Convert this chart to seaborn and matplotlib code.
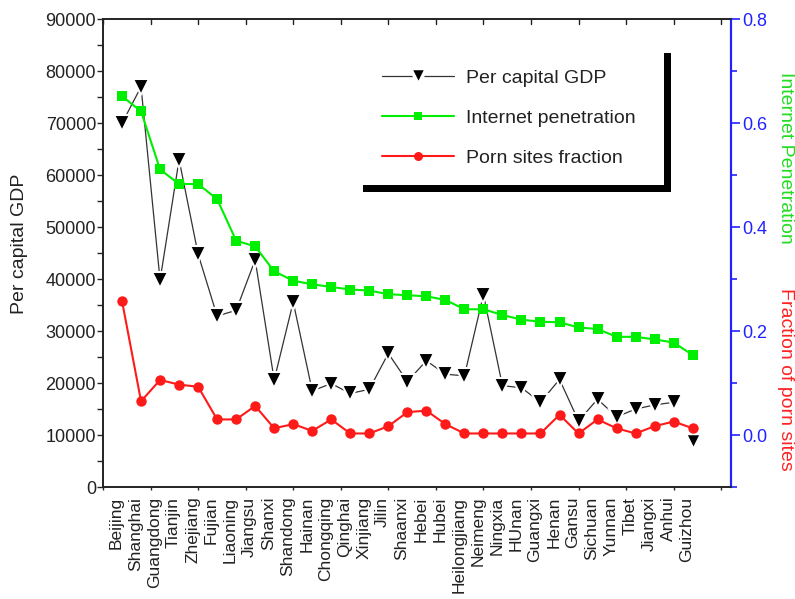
import matplotlib
matplotlib.use("Agg")
import matplotlib.pyplot as plt
import matplotlib.transforms as mtransforms
from matplotlib.lines import Line2D
from matplotlib.patches import Rectangle
from matplotlib.ticker import MultipleLocator, FormatStrFormatter
import seaborn as sns

provinces = ["Beijing", "Shanghai", "Guangdong", "Tianjin", "Zhejiang", "Fujian",
             "Liaoning", "Jiangsu", "Shanxi", "Shandong", "Hainan", "Chongqing",
             "Qinghai", "Xinjiang", "Jilin", "Shaanxi", "Hebei", "Hubei",
             "Heilongjiang", "Neimeng", "Ningxia", "HUnan", "Guangxi", "Henan",
             "Gansu", "Sichuan", "Yunnan", "Tibet", "Jiangxi", "Anhui", "Guizhou"]
positions = list(range(1, len(provinces) + 1))

gdp = [70000, 77000, 39800, 63000, 44800, 32900, 34000, 43700, 20600, 35600,
       18500, 19900, 18000, 18800, 25700, 20300, 24300, 21700, 21400, 37000,
       19500, 19100, 16300, 20700, 12700, 16900, 13500, 15000, 15800, 16300, 8900]

internet = [0.652, 0.623, 0.511, 0.483, 0.483, 0.454, 0.374, 0.363, 0.315, 0.297,
            0.290, 0.285, 0.280, 0.278, 0.271, 0.269, 0.267, 0.260, 0.242, 0.242,
            0.231, 0.222, 0.218, 0.217, 0.207, 0.204, 0.189, 0.189, 0.184, 0.178, 0.154]

porn = [0.258, 0.065, 0.106, 0.097, 0.093, 0.030, 0.030, 0.056, 0.013, 0.021,
        0.008, 0.030, 0.003, 0.003, 0.017, 0.044, 0.047, 0.021, 0.003, 0.003,
        0.003, 0.003, 0.003, 0.039, 0.003, 0.030, 0.013, 0.003, 0.017, 0.026, 0.013]

sns.set_style("white")
plt.rcParams["font.family"] = ["Liberation Sans", "DejaVu Sans"]

fig = plt.figure(figsize=(7.95, 5.99), dpi=100)
ax = fig.add_axes([103 / 795, 1 - 487 / 599, 627.7 / 795, 467.7 / 599])
ax2 = ax.twinx()

# per capita GDP (left axis); the last province is not joined by the line
sns.lineplot(x=positions[:-1], y=gdp[:-1], ax=ax, color="#333333", linewidth=0.9,
             marker="v", markersize=11, markerfacecolor="black",
             markeredgecolor="white", markeredgewidth=1.5, estimator=None, sort=False)
sns.scatterplot(x=positions[-1:], y=gdp[-1:], ax=ax, marker="v", s=110,
                color="black", edgecolor="white", linewidth=1.5)

# right axis series
sns.lineplot(x=positions, y=internet, ax=ax2, color="#00ee00", linewidth=1.5,
             marker="s", markersize=6.5, markeredgewidth=0, markerfacecolor="#00ee00",
             estimator=None, sort=False)
sns.lineplot(x=positions, y=porn, ax=ax2, color="#ff1a1a", linewidth=1.5,
             marker="o", markersize=7.5, markeredgewidth=0, markerfacecolor="#ff1a1a",
             estimator=None, sort=False)

ax.set_xlim(0, 33)
ax.set_ylim(0, 90000)
ax2.set_ylim(-0.1, 0.8)

# x axis: plain ticks every 2.5, province names under each point
ax.xaxis.remove_overlapping_locs = False
ax.xaxis.set_major_locator(MultipleLocator(2.5))
ax.set_xticks(positions, minor=True)
ax.set_xticklabels(provinces, minor=True, rotation=90, fontsize=12.5, color="#222222")
ax.tick_params(axis="x", which="major", labelbottom=False, direction="out",
               length=2.5, width=1, bottom=True, top=False)
ax.tick_params(axis="x", which="minor", length=0, pad=7)
shift = mtransforms.ScaledTranslation(-4 / 72, 0, fig.dpi_scale_trans)
for lab in ax.get_xticklabels(minor=True):
    lab.set_transform(lab.get_transform() + shift)

ax.yaxis.set_major_locator(MultipleLocator(10000))
ax.yaxis.set_minor_locator(MultipleLocator(5000))
ax.tick_params(axis="y", which="both", direction="out", length=4, width=1,
               left=True, labelsize=13, pad=1, labelcolor="#222222")
ax.set_ylabel("Per capital GDP", fontsize=14, color="#222222")
ax.yaxis.set_label_coords(-0.12, 0.52)

ax2.yaxis.set_major_locator(MultipleLocator(0.2))
ax2.yaxis.set_minor_locator(MultipleLocator(0.1))
ax2.tick_params(axis="y", which="major", direction="out", length=6.5, width=1.2,
                colors="#2222ff", labelsize=13, pad=2, right=True)
ax2.tick_params(axis="y", which="minor", direction="out", length=4, width=1.2,
                colors="#2222ff", right=True)
ax2.yaxis.set_major_formatter(FormatStrFormatter("%.1f"))
ax2.set_ylabel("")

for a in (ax, ax2):
    for side in ("left", "bottom", "top"):
        a.spines[side].set_color("#222222")
        a.spines[side].set_linewidth(1.2)
    a.spines["right"].set_color("#2222ff")
    a.spines["right"].set_linewidth(1.5)

# top axis ticks pointing inward
for x in [i * 2.5 for i in range(14)]:
    ax.plot([x, x], [90000, 89000], color="#222222", linewidth=1, clip_on=False)

ax.text(1.088, 0.703, "Internet Penetration", transform=ax.transAxes, rotation=-90,
        ha="center", va="center", fontsize=14, color="#22dd22")
ax.text(1.088, 0.23, "Fraction of porn sites", transform=ax.transAxes, rotation=-90,
        ha="center", va="center", fontsize=14, color="#ff2222")

# legend box with Origin-style drop shadow
ax2.add_patch(Rectangle((0.4137, 0.6314), 0.4907, 0.2959, transform=ax.transAxes,
                        facecolor="black", edgecolor="none", zorder=10, clip_on=False))
ax2.add_patch(Rectangle((0.4026, 0.6463), 0.4907, 0.2959, transform=ax.transAxes,
                        facecolor="white", edgecolor="none", zorder=11, clip_on=False))
handles = [
    Line2D([], [], color="#333333", linewidth=0.9, marker="v", markersize=11,
           markerfacecolor="black", markeredgecolor="white", markeredgewidth=2.5),
    Line2D([], [], color="#00ee00", linewidth=1.5, marker="s", markersize=6,
           markeredgewidth=0),
    Line2D([], [], color="#ff1a1a", linewidth=1.5, marker="o", markersize=6.5,
           markeredgewidth=0),
]
leg = ax2.legend(handles, ["Per capital GDP", "Internet penetration", "Porn sites fraction"],
                 loc="upper left", bbox_to_anchor=(0.417, 0.931), frameon=False,
                 fontsize=14, handlelength=3.7, handletextpad=0.6, labelspacing=1.15)
leg.set_zorder(12)
for t in leg.get_texts():
    t.set_color("#222222")

fig.savefig("out.png", dpi=100)
